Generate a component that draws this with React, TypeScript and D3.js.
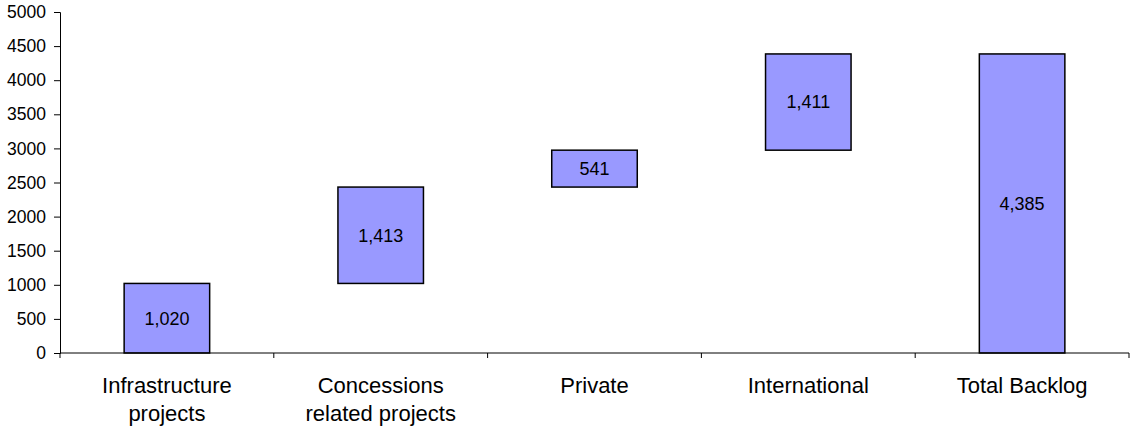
import React, { useEffect, useRef } from 'react';
import * as d3 from 'd3';

const categories = [
  ['Infrastructure', 'projects'],
  ['Concessions', 'related projects'],
  ['Private'],
  ['International'],
  ['Total Backlog'],
];
const values = [1020, 1413, 541, 1411, 4385];
const isTotal = [false, false, false, false, true];
const yTicks = [0, 500, 1000, 1500, 2000, 2500, 3000, 3500, 4000, 4500, 5000];

const W = 1130;
const H = 430;

const App = () => {
  const ref = useRef<SVGSVGElement>(null);

  useEffect(() => {
    if (!ref.current) return;
    const svg = d3.select(ref.current);
    svg.selectAll('*').remove();

    const left = 60, right = 1129, top = 12, bottom = 353;
    const font = '"Liberation Sans", Arial, sans-serif';

    // build waterfall segments
    let running = 0;
    const data = values.map((v, i) => {
      const start = isTotal[i] ? 0 : running;
      const end = isTotal[i] ? v : running + v;
      if (!isTotal[i]) running += v;
      return { i, v, start, end };
    });

    const x = d3.scaleBand<number>()
      .domain(d3.range(categories.length))
      .range([left, right])
      .paddingInner(0)
      .paddingOuter(0);

    const y = d3.scaleLinear().domain([0, 5000]).range([bottom, top]);

    // y axis
    const yAxis = svg.append('g')
      .attr('transform', `translate(${left},0)`)
      .call(d3.axisLeft(y).tickValues(yTicks).tickSize(6).tickPadding(8).tickFormat(d3.format('d')));
    yAxis.select('.domain').attr('stroke', '#000');
    yAxis.selectAll('.tick line').attr('stroke', '#000');
    yAxis.selectAll('.tick text')
      .attr('font-family', font)
      .attr('font-size', 17.5)
      .attr('fill', '#000');

    // bars
    const bw = x.bandwidth() * 0.4;
    svg.selectAll('rect.bar')
      .data(data)
      .enter()
      .append('rect')
      .attr('class', 'bar')
      .attr('x', d => x(d.i)! + (x.bandwidth() - bw) / 2)
      .attr('y', d => y(d.end))
      .attr('width', bw)
      .attr('height', d => y(d.start) - y(d.end))
      .attr('fill', '#9999FF')
      .attr('stroke', '#000')
      .attr('stroke-width', 1.5);

    // value labels
    svg.selectAll('text.val')
      .data(data)
      .enter()
      .append('text')
      .attr('class', 'val')
      .attr('x', d => x(d.i)! + x.bandwidth() / 2)
      .attr('y', d => y((d.start + d.end) / 2))
      .attr('dy', '0.35em')
      .attr('text-anchor', 'middle')
      .attr('font-family', font)
      .attr('font-size', 18)
      .text(d => d3.format(',')(d.v));

    // x axis
    svg.append('line')
      .attr('x1', left).attr('x2', right)
      .attr('y1', bottom).attr('y2', bottom)
      .attr('stroke', '#000');
    const bounds = d3.range(categories.length + 1).map(i => i < categories.length ? x(i)! : right);
    svg.selectAll('line.xtick')
      .data(bounds)
      .enter()
      .append('line')
      .attr('x1', d => d).attr('x2', d => d)
      .attr('y1', bottom).attr('y2', bottom + 5)
      .attr('stroke', '#000');

    const lab = svg.selectAll('text.cat')
      .data(categories)
      .enter()
      .append('text')
      .attr('class', 'cat')
      .attr('text-anchor', 'middle')
      .attr('font-family', font)
      .attr('font-size', 22);
    lab.selectAll('tspan')
      .data((d, i) => d.map(t => ({ t, i })))
      .enter()
      .append('tspan')
      .attr('x', d => x(d.i)! + x.bandwidth() / 2)
      .attr('y', (d, j) => 393 + j * 28)
      .text(d => d.t);
  }, []);

  return (
    <svg ref={ref} width={W} height={H} style={{ position: 'absolute', left: 0, top: 0, background: '#fff' }} />
  );
};

export default App;
